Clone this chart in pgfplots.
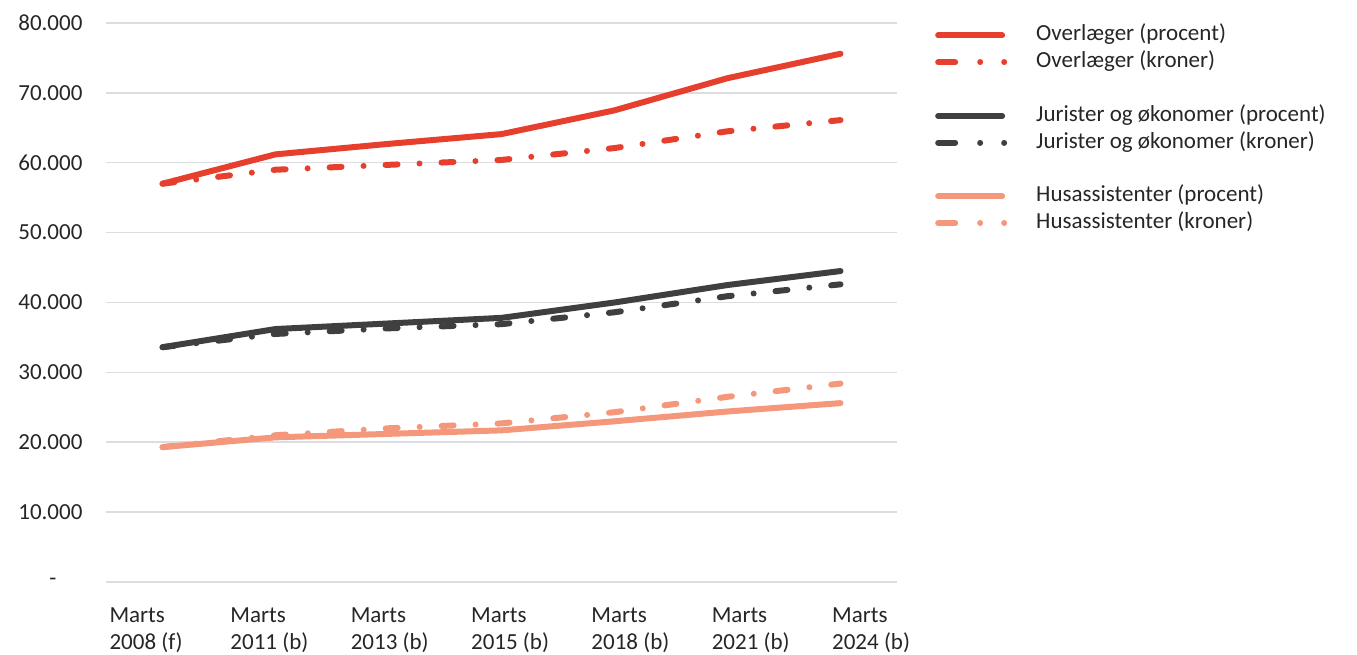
\documentclass[border=0pt]{standalone}
\usepackage{pgfplots}
\pgfplotsset{compat=1.18}
\usepackage{fontspec}
\setmainfont{Carlito}
\definecolor{cred}{HTML}{E63F2E}
\definecolor{cdark}{HTML}{3F3F3F}
\definecolor{csal}{HTML}{F4977A}
\definecolor{cgrid}{HTML}{DCDCE2}
\newcommand{\chartfont}{\fontsize{23}{27}\selectfont}
\pgfplotsset{
  solidleg/.style={legend image code/.code={\draw[##1, line cap=round] (3pt,0pt) -- (67pt,0pt);}},
  dashleg/.style={legend image code/.code={
      \draw[##1, solid, line cap=round] (3pt,0pt) -- (20pt,0pt);
      \draw[##1, solid, line cap=round] (45pt,0pt) -- (45.01pt,0pt);
      \draw[##1, solid, line cap=round] (69pt,0pt) -- (69.01pt,0pt);}},
}
\begin{document}
\begin{tikzpicture}
\path[use as bounding box] (0,0) rectangle (1357pt,655pt);
\begin{axis}[
  at={(106pt,73pt)}, anchor=south west,
  scale only axis, width=791pt, height=559pt,
  xmin=-0.5, xmax=6.5, ymin=0, ymax=80000,
  scaled y ticks=false,
  axis line style={draw=none},
  ytick={0,10000,20000,30000,40000,50000,60000,70000,80000},
  yticklabels={-\hspace*{26pt},10.000,20.000,30.000,40.000,50.000,60.000,70.000,80.000},
  ymajorgrids, grid style={cgrid, line width=1.5pt},
  major tick length=0pt,
  yticklabel style={font=\chartfont, xshift=-20pt, text=black!85},
  xtick={-0.50,0.57,1.635,2.70,3.765,4.83,5.895},
  xticklabels={{Marts\\2008 (f)},{Marts\\2011 (b)},{Marts\\2013 (b)},{Marts\\2015 (b)},{Marts\\2018 (b)},{Marts\\2021 (b)},{Marts\\2024 (b)}},
  xticklabel style={anchor=north west, align=left, font=\chartfont, yshift=-22pt, text=black!85},
  legend style={at={(1.048,0.995)}, anchor=north west, draw=none, fill=none, font=\chartfont,
    row sep=7.8pt, inner sep=0pt,
    nodes={text height=15pt, text depth=4pt, inner sep=0pt, text=black!85},
    /tikz/every odd column/.append style={column sep=29pt}},
  legend cell align=left,
  every axis plot/.append style={line width=6pt, line join=round, line cap=round},
]
\addplot[cred, solidleg] coordinates {(0,57000) (1,61200) (2,62700) (3,64100) (4,67500) (5,72100) (6,75600)};
\addlegendentry{Overlæger (procent)}
\addplot[cred, dashleg, dash pattern=on 12pt off 22pt on 0pt off 22pt] coordinates {(0,57000) (1,59000) (2,59700) (3,60400) (4,62100) (5,64500) (6,66100)};
\addlegendentry{Overlæger (kroner)}
\addlegendimage{empty legend}\addlegendentry{}
\addplot[cdark, solidleg] coordinates {(0,33600) (1,36200) (2,37000) (3,37800) (4,40000) (5,42500) (6,44500)};
\addlegendentry{Jurister og økonomer (procent)}
\addplot[cdark, dashleg, dash pattern=on 12pt off 22pt on 0pt off 22pt] coordinates {(0,33600) (1,35500) (2,36300) (3,36900) (4,38600) (5,40900) (6,42600)};
\addlegendentry{Jurister og økonomer (kroner)}
\addlegendimage{empty legend}\addlegendentry{}
\addplot[csal, solidleg] coordinates {(0,19300) (1,20700) (2,21200) (3,21700) (4,23000) (5,24400) (6,25600)};
\addlegendentry{Husassistenter (procent)}
\addplot[csal, dashleg, dash pattern=on 12pt off 22pt on 0pt off 22pt] coordinates {(0,19300) (1,21000) (2,22000) (3,22700) (4,24300) (5,26500) (6,28400)};
\addlegendentry{Husassistenter (kroner)}
\end{axis}
\end{tikzpicture}
\end{document}
